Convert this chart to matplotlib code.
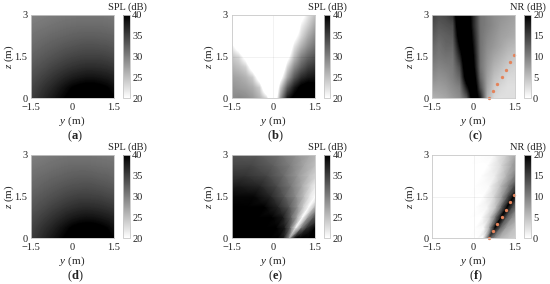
import numpy as np
import matplotlib
matplotlib.use("Agg")
import matplotlib.pyplot as plt

plt.rcParams["font.family"] = ["Liberation Serif", "DejaVu Serif"]
plt.rcParams["mathtext.fontset"] = "custom"
plt.rcParams["mathtext.rm"] = "Liberation Serif"
plt.rcParams["mathtext.it"] = "Liberation Serif:italic"
plt.rcParams["mathtext.bf"] = "Liberation Serif:bold"

y_vals = [-1.5, -1.25, -1.0, -0.75, -0.5, -0.25, 0, 0.25, 0.5, 0.75, 1.0, 1.25, 1.5]
z_vals = [0, 0.375, 0.75, 1.125, 1.5, 1.875, 2.25, 2.625, 3.0]

# rows go from z=0 up to z=3
spl_a = [
    [35.0, 36.0, 37.0, 38.0, 39.0, 40.0, 41.0, 41.5, 42.0, 42.0, 41.5, 41.0, 40.0],
    [34.5, 35.3, 36.2, 37.0, 38.0, 39.0, 40.0, 40.6, 41.0, 41.0, 40.6, 40.0, 39.0],
    [33.8, 34.4, 35.1, 35.8, 36.5, 37.2, 37.8, 38.2, 38.5, 38.5, 38.3, 38.0, 37.5],
    [33.0, 33.5, 34.0, 34.6, 35.1, 35.6, 36.0, 36.3, 36.5, 36.5, 36.4, 36.2, 35.8],
    [32.3, 32.7, 33.1, 33.5, 33.9, 34.3, 34.6, 34.8, 34.9, 34.9, 34.9, 34.7, 34.4],
    [31.6, 31.9, 32.3, 32.6, 32.9, 33.2, 33.4, 33.6, 33.7, 33.7, 33.6, 33.5, 33.2],
    [31.0, 31.3, 31.5, 31.8, 32.0, 32.2, 32.4, 32.5, 32.6, 32.6, 32.5, 32.4, 32.2],
    [30.4, 30.6, 30.8, 31.0, 31.2, 31.4, 31.5, 31.6, 31.6, 31.6, 31.6, 31.5, 31.3],
    [29.8, 30.0, 30.2, 30.4, 30.5, 30.6, 30.7, 30.8, 30.8, 30.8, 30.8, 30.7, 30.5],
]
spl_b = [
    [29, 29.5, 29, 28, 26, 23, 12, 28, 38, 41, 42, 42, 42],
    [28.5, 28, 27.5, 26.5, 24, 14, 10, 24, 33, 38, 41, 42, 41],
    [27.5, 27, 26, 24, 17, 10, 10, 18, 27, 33, 36.5, 38, 38.5],
    [26, 25, 23.5, 17, 10, 10, 10, 13, 23, 29, 32.5, 35, 36],
    [24.5, 23, 18, 10, 10, 10, 10, 10, 18, 25, 29.5, 32, 33.5],
    [21.5, 17, 10, 10, 10, 10, 10, 10, 14, 22, 26, 29, 31],
    [12, 10, 10, 10, 10, 10, 10, 10, 10, 18, 23, 26.5, 29],
    [10, 10, 10, 10, 10, 10, 10, 10, 10, 13, 21, 24, 27],
    [10, 10, 10, 10, 10, 10, 10, 10, 10, 10, 18, 22, 25],
]
nr_c = [
    [6, 6.5, 7, 8, 9, 13, 24, 18, 6, 3, 2.5, 2.5, 2.5],
    [7.5, 7.5, 8, 9, 10, 18, 25, 14, 7, 4, 3, 2.5, 2.5],
    [9, 8.5, 9, 10, 12, 23, 23, 12, 7.5, 5, 4, 3, 3],
    [10, 9.5, 10, 10.5, 14, 25, 21, 11, 8, 6, 5, 4, 3.5],
    [11, 10.5, 11, 11, 17, 26, 20, 11, 8.5, 7, 6, 5, 4.5],
    [12, 11, 12, 12, 20, 26, 19, 11, 9, 8, 7, 6, 5.5],
    [13, 12, 12.5, 13, 23, 26, 18, 11, 9.5, 8.5, 7.5, 7, 6.5],
    [14, 13, 13.5, 14, 25, 25, 17, 11, 10, 9, 8, 7.5, 7],
    [15, 14, 14.5, 16, 26, 24, 17, 11, 10, 9, 8.5, 8, 7.5],
]
spl_d = [
    [35.2, 36.2, 37.2, 38.2, 39.2, 40.2, 41.2, 41.8, 42.0, 42.0, 41.5, 40.8, 39.8],
    [34.7, 35.5, 36.4, 37.2, 38.2, 39.2, 40.2, 40.8, 41.0, 41.0, 40.5, 39.8, 38.8],
    [34.0, 34.6, 35.3, 36.0, 36.7, 37.4, 38.0, 38.4, 38.6, 38.5, 38.2, 37.8, 37.3],
    [33.2, 33.7, 34.2, 34.8, 35.3, 35.8, 36.2, 36.5, 36.6, 36.5, 36.3, 36.0, 35.6],
    [32.5, 32.9, 33.3, 33.7, 34.1, 34.5, 34.8, 35.0, 35.0, 34.9, 34.8, 34.5, 34.2],
    [31.8, 32.1, 32.5, 32.8, 33.1, 33.4, 33.6, 33.7, 33.8, 33.7, 33.5, 33.3, 33.0],
    [31.2, 31.5, 31.7, 32.0, 32.2, 32.4, 32.6, 32.7, 32.7, 32.6, 32.4, 32.3, 32.0],
    [30.6, 30.8, 31.0, 31.2, 31.4, 31.6, 31.7, 31.7, 31.7, 31.6, 31.5, 31.4, 31.2],
    [30.0, 30.2, 30.4, 30.6, 30.7, 30.8, 30.9, 30.9, 30.9, 30.8, 30.7, 30.6, 30.4],
]

# panels e and f have a thin diagonal ridge, so their columns are sampled at
# these offsets from the ridge position of each z row
ridge_offsets = [-3.9, -3.0, -2.2, -1.6, -1.1, -0.7, -0.4, -0.2, 0, 0.2, 0.4, 0.7, 1.1]
ridge_e = [0.6, 0.83, 1.07, 1.3, 1.53, 1.76, 2.0, 2.23, 2.46]
ridge_f = [0.56, 0.78, 1.0, 1.22, 1.45, 1.67, 1.89, 2.11, 2.33]
spl_e = [
    [40, 40, 40, 41, 42, 42, 42, 38, 28, 40, 42, 42, 42],
    [41, 41, 42, 42, 42, 42, 38, 32, 21, 30, 36, 40, 41],
    [41, 41, 42, 42, 41, 38, 32, 27, 18, 28, 33, 36, 38],
    [40, 40, 41, 40, 37, 33, 28, 24, 17, 25, 31, 35, 37],
    [39, 39.5, 39.5, 37, 33, 29, 25, 22, 18, 24, 30, 34, 36],
    [37, 38, 37, 34, 30.5, 26.5, 23, 21, 19, 22, 28, 32, 34],
    [36, 36, 34.5, 31.5, 28, 25, 23, 21, 20, 22, 26, 30, 32],
    [34.5, 34.5, 32.5, 30, 27, 25, 23.5, 22, 21, 22, 25, 28, 30],
    [33.5, 33, 31, 28.5, 26.5, 25, 24, 23, 22, 23, 25, 27, 29],
]
nr_f = [
    [0, 0, 0, 0, 0, 0, 0, 0, 14, 9, 6, 4.5, 3.5],
    [0, 0, 0, 0, 0, 0, 0.5, 7, 22, 12, 7.5, 5, 4],
    [0, 0, 0, 0, 0, 0, 4, 11, 24, 13, 9, 6, 5],
    [0, 0, 0, 0, 0, 1, 5, 12, 24, 14, 10, 7, 6],
    [0, 0, 0, 0, 0, 3, 8, 14, 24, 14, 10, 7, 6],
    [0, 0, 0, 0, 0.5, 5, 10, 14, 15, 12, 9, 7, 6],
    [0, 0, 0, 0, 1.5, 6, 10, 11, 12, 10, 9, 7, 6],
    [0, 0, 0, 0, 3, 7.5, 9, 10, 10, 9, 8, 7, 6],
    [0, 0, 0, 0.5, 4.5, 8, 9, 9, 9, 9, 8, 7, 6],
]

dots_y = [0.56, 0.72, 0.86, 1.02, 1.16, 1.32, 1.48]
dots_z = [0.0, 0.25, 0.5, 0.77, 1.02, 1.3, 1.55]

spl_ticks = [20, 25, 30, 35, 40]
nr_ticks = [0, 5, 10, 15, 20]

W, H = 550, 284
fig = plt.figure(figsize=(W / 100, H / 100), dpi=100)
EDGE = "#c8c8c8"
TEXT = "#222222"


def px_axes(x0, x1, y0, y1):
    return fig.add_axes([x0 / W, 1 - y1 / H, (x1 - x0) / W, (y1 - y0) / H])


def panel(data, left, top, letter, title, ticks, ridge=None, dots=False, grid=False):
    size = 83
    ax = px_axes(left, left + size, top, top + size)
    if ridge is None:
        dy = (y_vals[1] - y_vals[0]) / 2
        dz = (z_vals[1] - z_vals[0]) / 2
        im = ax.imshow(np.array(data), origin="lower", aspect="auto", cmap="gray_r",
                       vmin=ticks[0], vmax=ticks[-1], interpolation="bilinear",
                       extent=[y_vals[0] - dy, y_vals[-1] + dy, z_vals[0] - dz, z_vals[-1] + dz])
    else:
        yy = np.array(ridge)[:, None] + np.array(ridge_offsets)[None, :]
        zz = np.repeat(np.array(z_vals)[:, None], len(ridge_offsets), axis=1)
        im = ax.pcolormesh(yy, zz, np.array(data), shading="gouraud", cmap="gray_r",
                           vmin=ticks[0], vmax=ticks[-1])
    if grid:
        ax.axvline(0, color="k", alpha=0.06, lw=0.6)
        ax.axhline(1.5, color="k", alpha=0.06, lw=0.6)
    if dots:
        ax.plot(dots_y, dots_z, "o", color="#e4835a", ms=2.4, mew=0, clip_on=False)
    ax.set_xlim(-1.5, 1.5)
    ax.set_ylim(0, 3)
    ax.set_xticks([-1.5, 0, 1.5], ["\u22121.5", "0", "1.5"])
    ax.set_yticks([0, 1.5, 3], ["0", "1.5", "3"])
    ax.tick_params(length=0, labelsize=7.5, colors=TEXT)
    ax.tick_params(axis="x", pad=3.5)
    ax.tick_params(axis="y", pad=2.5)
    ax.set_xlabel(r"$y$ (m)", fontsize=8, labelpad=2, color=TEXT)
    ax.set_ylabel(r"$z$ (m)", fontsize=8, labelpad=-1, color=TEXT)
    for s in ax.spines.values():
        s.set_color(EDGE)
        s.set_linewidth(0.6)

    cax = px_axes(left + 92, left + 99, top, top + size)
    cb = fig.colorbar(im, cax=cax, ticks=ticks)
    cb.ax.tick_params(length=0, labelsize=7.5, pad=1.5, colors=TEXT)
    cb.outline.set_edgecolor(EDGE)
    cb.outline.set_linewidth(0.6)
    fig.text((left + 96) / W, 1 - (top - 8) / H, title, fontsize=7.5, ha="center",
             va="center", color=TEXT)
    fig.text((left + 44) / W, 1 - (top + 121) / H, "($\\mathbf{%s}$)" % letter,
             fontsize=9, ha="center", va="center", color=TEXT)


panel(spl_a, 31, 15, "a", "SPL (dB)", spl_ticks)
panel(spl_b, 231.5, 15, "b", "SPL (dB)", spl_ticks, grid=True)
panel(nr_c, 432, 15, "c", "NR (dB)", nr_ticks, dots=True)
panel(spl_d, 31, 155, "d", "SPL (dB)", spl_ticks)
panel(spl_e, 231.5, 155, "e", "SPL (dB)", spl_ticks, ridge=ridge_e)
panel(nr_f, 432, 155, "f", "NR (dB)", nr_ticks, ridge=ridge_f, dots=True, grid=True)

fig.savefig("out.png", dpi=100)
